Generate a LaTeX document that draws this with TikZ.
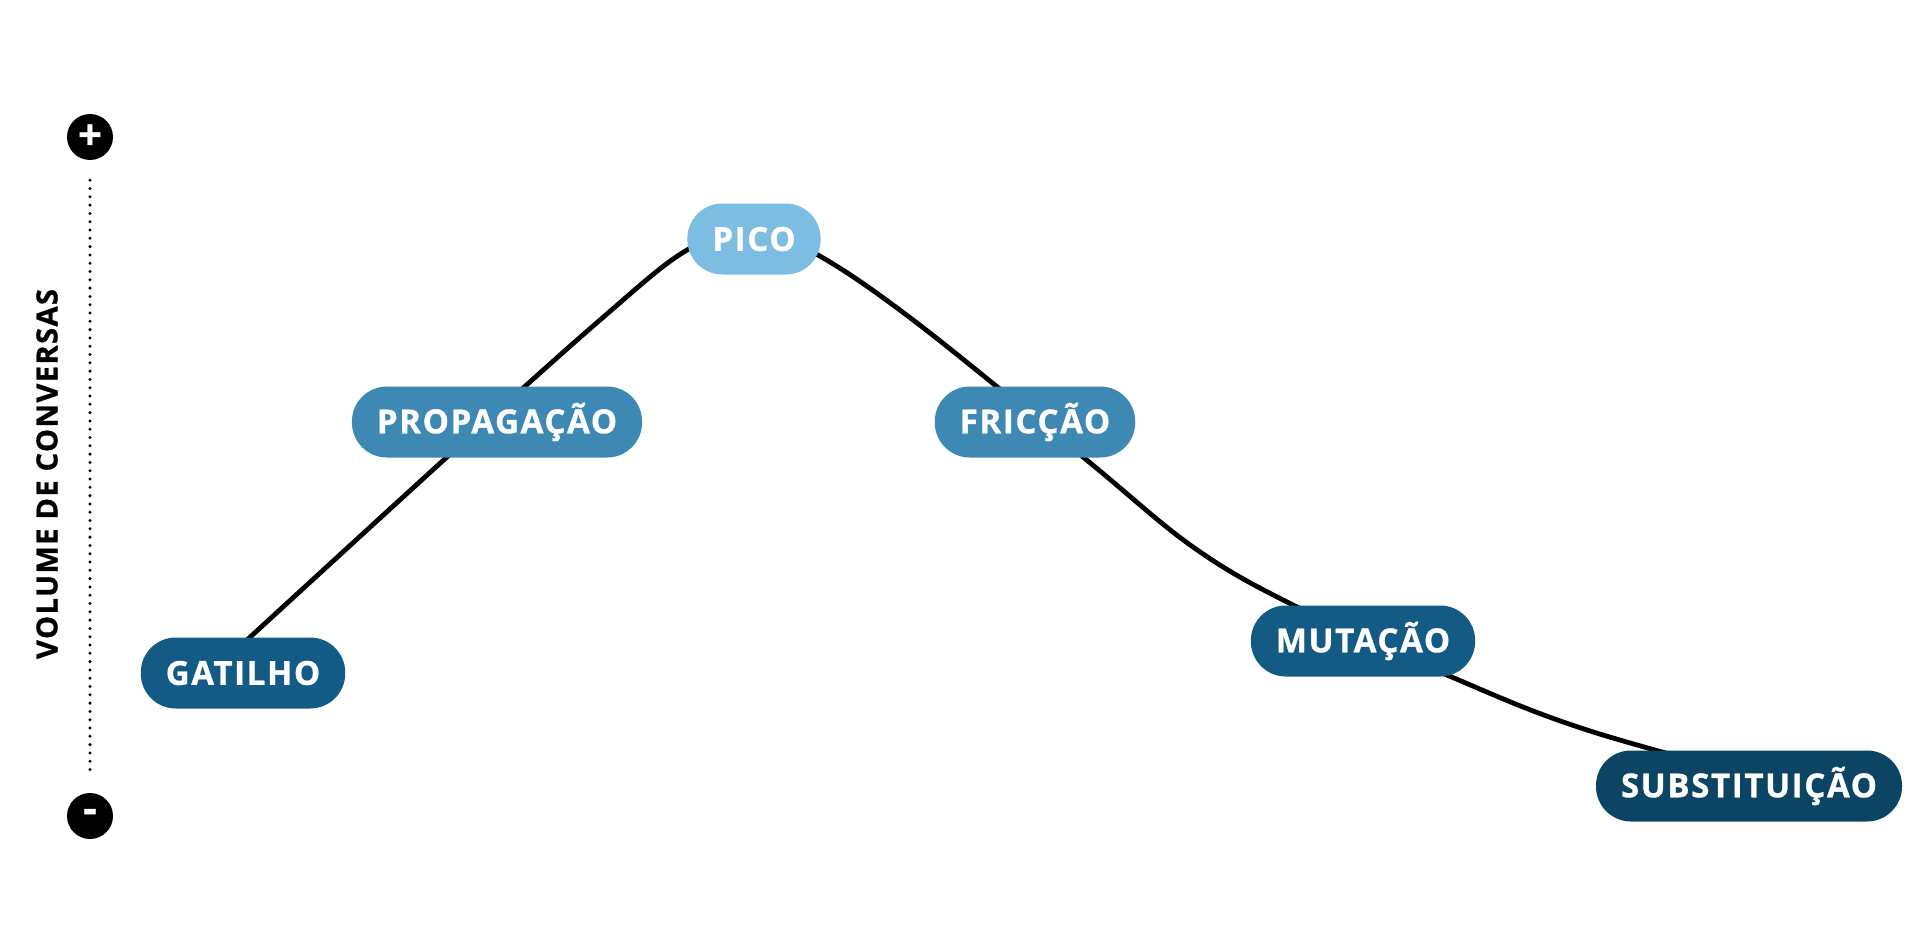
\documentclass[tikz,border=0pt]{standalone}
\usepackage{fontspec}
\newfontfamily\pillfont{Open Sans}[LetterSpace=5,FakeBold=1]
\usetikzlibrary{backgrounds}

\definecolor{stageDark}{RGB}{19,91,132}
\definecolor{stageMid}{RGB}{62,137,180}
\definecolor{stageLight}{RGB}{125,189,225}
\definecolor{stageDeep}{RGB}{12,69,99}

\begin{document}
\begin{tikzpicture}[%
      x=1pt, y=-1pt,
      stage/.style={%
        rectangle,
        rounded corners = 35pt,
        minimum height  = 71pt,
        inner xsep      = 25pt,
        inner ysep      = 0pt,
        text            = white,
        font            = \pillfont\bfseries\fontsize{33}{36}\selectfont,
      },
      sign/.style={%
        circle,
        fill         = black,
        minimum size = 46pt,
        inner sep    = 0pt,
        text         = white,
        font         = \pillfont\bfseries\fontsize{42}{44}\selectfont,
      }
      ]

      \useasboundingbox (0,0) rectangle (1920,950);

      % vertical axis
      \node[sign] (Plus) at (90,137) {+};
      \node[sign] (Minus) at (90,816) {-};
      \draw[line width=3.3pt, line cap=round, dash pattern=on 0pt off 8.3pt]
        ([yshift=-20pt]Plus.south) -- ([yshift=19pt]Minus.north);
      \node[rotate=90, font=\pillfont\bfseries\fontsize{29}{30}\selectfont] (Axis-Label) at (47,474) {VOLUME DE CONVERSAS};

      % stages
      \node[stage, fill=stageDark] (Gatilho) at (243,673) {GATILHO};
      \node[stage, fill=stageMid] (Propagacao) at (497,422) {PROPAGAÇÃO};
      \node[stage, fill=stageLight] (Pico) at (754,239) {PICO};
      \node[stage, fill=stageMid] (Friccao) at (1035,422) {FRICÇÃO};
      \node[stage, fill=stageDark] (Mutacao) at (1363,641) {MUTAÇÃO};
      \node[stage, fill=stageDeep] (Substituicao) at (1749,786) {SUBSTITUIÇÃO};

      \begin{pgfonlayer}{background}
        \draw[line width=4.8pt] plot[smooth, tension=0.6] coordinates {
          ([xshift=-32pt]Gatilho.center) (447,457) (600,320) (687,250)
          (752,229) (818,255) (917,323) (1083,457) (1193,547)
          (1293,605) (1447,675) (1587,730) ([xshift=40pt]Substituicao.center)};
      \end{pgfonlayer}

    \end{tikzpicture}
\end{document}
